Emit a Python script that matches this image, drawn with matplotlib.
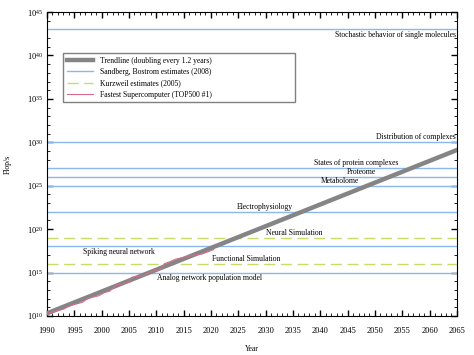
import numpy as np
import matplotlib
matplotlib.use("Agg")
import matplotlib.pyplot as plt
from matplotlib.ticker import LogLocator, MultipleLocator, NullFormatter

plt.rcParams['font.family'] = ['Liberation Serif', 'DejaVu Serif']
plt.rcParams['mathtext.fontset'] = 'stix'

# trend: doubling every 1.2 years
trend_years = [1990, 2065]
trend_start = 10 ** 10.3
doubling_time = 1.2

# Sandberg & Bostrom (2008) estimates, flop/s
sandberg_labels = ["Stochastic behavior of single molecules", "Distribution of complexes",
                   "States of protein complexes", "Proteome", "Metabolome",
                   "Electrophysiology", "Spiking neural network", "Analog network population model"]
sandberg_values = [1e43, 1e30, 1e27, 1e26, 1e25, 1e22, 1e18, 1e15]

# Kurzweil (2005) estimates
kurzweil_labels = ["Neural Simulation", "Functional Simulation"]
kurzweil_values = [1e19, 1e16]

# fastest supercomputer (TOP500 #1)
super_years = [1990, 1991.5, 1993, 1993.9, 1994.5, 1996.5, 1997.5, 1999.5, 2000.5, 2001.5, 2002.5, 2004.9,
               2005.5, 2007.9, 2008.5, 2009.9, 2010.9, 2011.5, 2012.5, 2013.5, 2016.5, 2018.5, 2020.5]
super_flops = [2.0e10, 3.5e10, 5.97e10, 1.24e11, 1.7e11, 3.68e11, 1.07e12, 2.12e12, 4.94e12, 7.2e12, 3.59e13, 7.08e13,
               2.81e14, 4.78e14, 1.03e15, 1.76e15, 2.57e15, 1.05e16, 1.76e16, 3.39e16, 9.3e16, 1.43e17, 4.42e17]

fig = plt.figure(figsize=(4.74, 3.55), dpi=100)
ax = fig.add_axes([0.099, 0.110, 0.865, 0.856])

yrs = np.array(trend_years, dtype=float)
trend = trend_start * 2 ** ((yrs - 1990) / doubling_time)
ax.plot(yrs, trend, color='#858585', lw=3.2, label='Trendline (doubling every 1.2 years)', zorder=4)

blue = '#8ab8ea'
green = '#c8dc6a'
for i, v in enumerate(sandberg_values):
    ax.axhline(v, color=blue, lw=1.0, label='Sandberg, Bostrom estimates (2008)' if i == 0 else None, zorder=2)
for i, v in enumerate(kurzweil_values):
    ax.axhline(v, color=green, lw=1.0, dashes=(8, 4),
               label='Kurzweil estimates (2005)' if i == 0 else None, zorder=2)
ax.plot(super_years, super_flops, color='#d86a8a', lw=0.8, label='Fastest Supercomputer (TOP500 #1)', zorder=5)

fs = 5.5
# labels: (text, value, x-year, ha, above?)
ann = [
    (sandberg_labels[0], sandberg_values[0], 2064.8, 'right', False),
    (sandberg_labels[1], sandberg_values[1], 2064.8, 'right', True),
    (sandberg_labels[2], sandberg_values[2], 2038.8, 'left', True),
    (sandberg_labels[3], sandberg_values[3], 2044.9, 'left', True),
    (sandberg_labels[4], sandberg_values[4], 2040.1, 'left', True),
    (sandberg_labels[5], sandberg_values[5], 2024.8, 'left', True),
    (sandberg_labels[6], sandberg_values[6], 1996.6, 'left', False),
    (sandberg_labels[7], sandberg_values[7], 2010.1, 'left', False),
    (kurzweil_labels[0], kurzweil_values[0], 2030.0, 'left', True),
    (kurzweil_labels[1], kurzweil_values[1], 2020.2, 'left', True),
]
for txt, v, x, ha, above in ann:
    y = v * 10 ** 0.12 if above else v / 10 ** 0.15
    ax.text(x, y, txt, ha=ha, va='bottom' if above else 'top', fontsize=fs, zorder=6)

ax.set_yscale('log')
ax.set_xlim(1990, 2065)
ax.set_ylim(1e10, 1e45)
ax.xaxis.set_major_locator(MultipleLocator(5))
ax.xaxis.set_minor_locator(MultipleLocator(1))
ax.yaxis.set_major_locator(LogLocator(base=10 ** 5))
ax.yaxis.set_minor_locator(LogLocator(base=10, numticks=50, subs=[1.0]))
ax.yaxis.set_minor_formatter(NullFormatter())
ax.tick_params(which='both', direction='in', top=True, right=True, labelsize=6, width=0.6)
ax.tick_params(which='major', length=4, width=1.0)
ax.tick_params(axis='x', which='major', pad=8)
ax.tick_params(axis='y', which='major', pad=3)
ax.tick_params(which='minor', length=2)
for s in ax.spines.values():
    s.set_linewidth(0.8)

ax.set_xlabel('Year', fontsize=fs, labelpad=7)
ax.set_ylabel('Flop/s', fontsize=fs, labelpad=11)

ax.legend(loc='upper left', bbox_to_anchor=(0.039, 0.711, 0.566, 0.154), mode='expand', borderaxespad=0,
          fontsize=fs, frameon=True, fancybox=False, edgecolor='#606060',
          handlelength=3.4, borderpad=0.5, labelspacing=0.42, handletextpad=1.0)

fig.savefig('out.png', dpi=100)
